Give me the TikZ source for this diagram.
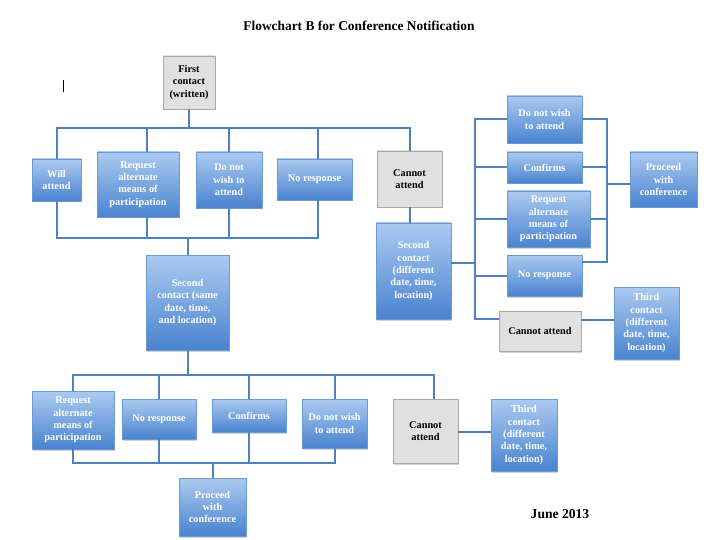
\documentclass[tikz,border=0pt]{standalone}
\usepackage{fontspec}
\setmainfont{Liberation Serif}
\usepackage{tikz}
\usetikzlibrary{shadows}
\usepackage{xcolor}
\definecolor{cimo}{HTML}{ABCAF0}
\definecolor{baixo}{HTML}{4983CF}
\definecolor{borda}{HTML}{6A99D6}
\definecolor{linhaazul}{HTML}{4F81BD}
\definecolor{cinzafundo}{HTML}{E0E0E0}
\definecolor{cinzaborda}{HTML}{A8A8A8}

\begin{document}
\begin{tikzpicture}[x=1pt,y=-1pt,
  caixa/.style={draw=borda, line width=0.6pt, top color=cimo, bottom color=baixo,
    text=white, font=\bfseries\fontsize{10.3}{12.4}\selectfont, align=center,
    inner sep=1pt, drop shadow={opacity=0.35, shadow xshift=1.2pt, shadow yshift=-1.5pt}},
  cinza/.style={caixa, top color=cinzafundo, bottom color=cinzafundo, draw=cinzaborda,
    text=black},
  linha/.style={draw=linhaazul, line width=2pt}]
\fill[white] (0,0) rectangle (720,540);
\useasboundingbox (0,0) rectangle (720,540);
% Titulo
\node[font=\bfseries\fontsize{13.4}{15}\selectfont] (titulo) at (359,26) {Flowchart B for Conference Notification};
\node[font=\bfseries\fontsize{13.6}{15}\selectfont] (data) at (560,514) {June 2013};
\draw[line width=0.6pt] (63,80) -- (63,92);
% Primeiro contato
\node[cinza, minimum width=52, minimum height=53] (ini) at (189,82.5) {First\\contact\\(written)};
% Primeira linha de respostas
\node[caixa, minimum width=49, minimum height=42] (vai) at (56.5,180) {Will\\attend};
\node[caixa, minimum width=82, minimum height=65] (pede) at (138,184.5) {Request\\alternate\\means of\\participation};
\node[caixa, minimum width=66, minimum height=56] (naoq) at (229,180) {Do not\\wish to\\attend};
\node[caixa, minimum width=75, minimum height=41] (semr) at (314.5,179.5) {No response};
\node[cinza, minimum width=65, minimum height=56] (naop) at (409.5,179) {Cannot\\attend};
% Segundos contatos
\node[caixa, minimum width=83, minimum height=95] (segA) at (187.5,302.5) {Second\\contact (same\\date, time,\\and location)};
\node[caixa, minimum width=75, minimum height=96] (segB) at (413.5,271) {Second\\contact\\(different\\date, time,\\location)};
% Ramo da direita
\node[caixa, minimum width=75, minimum height=47] (dNaoq) at (544.5,119.5) {Do not wish\\to attend};
\node[caixa, minimum width=75, minimum height=31] (dConf) at (544.5,167.5) {Confirms};
\node[caixa, minimum width=83, minimum height=56] (dPede) at (548.5,219) {Request\\alternate\\means of\\participation};
\node[caixa, minimum width=75, minimum height=41] (dSemr) at (544.5,275.5) {No response};
\node[cinza, minimum width=82, minimum height=40] (dNaop) at (540,331) {Cannot attend};
\node[caixa, minimum width=67, minimum height=55] (dSegue) at (663.5,179.5) {Proceed\\with\\conference};
\node[caixa, minimum width=65, minimum height=72] (dTerc) at (646.5,323) {Third\\contact\\(different\\date, time,\\location)};
% Linha de baixo
\node[caixa, minimum width=82, minimum height=58] (bPede) at (73,420) {Request\\alternate\\means of\\participation};
\node[caixa, minimum width=74, minimum height=40] (bSemr) at (159,419) {No response};
\node[caixa, minimum width=74, minimum height=33] (bConf) at (249,415.5) {Confirms};
\node[caixa, minimum width=65, minimum height=49] (bNaoq) at (334.5,423.5) {Do not wish\\to attend};
\node[cinza, minimum width=65, minimum height=64] (bNaop) at (425.5,431) {Cannot\\attend};
\node[caixa, minimum width=66, minimum height=72] (bTerc) at (524,435) {Third\\contact\\(different\\date, time,\\location)};
\node[caixa, minimum width=67, minimum height=58] (bSegue) at (212.5,507) {Proceed\\with\\conference};
% Barramentos
\coordinate (b1) at (0,128);
\coordinate (b2) at (0,238);
\coordinate (b3) at (0,375);
\coordinate (b4) at (0,463);
\coordinate (e1) at (475,0);
\coordinate (e2) at (607,0);
% Ligacoes de cima
\draw[linha] (ini.south) -- (ini.south |- b1);
\draw[linha] (vai.north) |- (naop.north |- b1) -- (naop.north);
\draw[linha] (147,128) -- (pede.north -| 147,0);
\draw[linha] (naoq.north |- b1) -- (naoq.north);
\draw[linha] (318,128) -- (semr.north -| 318,0);
\draw[linha] (vai.south) |- (318,238) -- (semr.south -| 318,0);
\draw[linha] (pede.south -| 147,0) -- (147,238);
\draw[linha] (naoq.south) -- (naoq.south |- b2);
\draw[linha] (segA.north) -- (segA.north |- b2);
\draw[linha] (naop.south) -- (naop.south |- segB.north);
% Ligacoes de baixo
\draw[linha] (segA.south) -- (segA.south |- b3);
\draw[linha] (bPede.north) |- (434,375) -- (bNaop.north -| 434,0);
\draw[linha] (bSemr.north |- b3) -- (bSemr.north);
\draw[linha] (bConf.north |- b3) -- (bConf.north);
\draw[linha] (bNaoq.north |- b3) -- (bNaoq.north);
\draw[linha] (bPede.south) |- (bNaoq.south |- b4) -- (bNaoq.south);
\draw[linha] (bSemr.south) -- (bSemr.south |- b4);
\draw[linha] (bConf.south) -- (bConf.south |- b4);
\draw[linha] (bSegue.north) -- (bSegue.north |- b4);
\draw[linha] (bNaop.east |- 0,432) -- (bTerc.west |- 0,432);
% Ligacoes da direita
\draw[linha] (segB.east |- 0,263) -- (475,263);
\draw[linha] (dNaoq.west) -| (475,319) -- (dNaop.west |- 0,319);
\draw[linha] (dConf.west) -- (dConf.west -| e1);
\draw[linha] (dPede.west) -- (dPede.west -| e1);
\draw[linha] (dSemr.west) -- (dSemr.west -| e1);
\draw[linha] (dNaoq.east) -| (607,262) -- (dSemr.east |- 0,262);
\draw[linha] (dConf.east) -- (dConf.east -| e2);
\draw[linha] (dPede.east) -- (dPede.east -| e2);
\draw[linha] (607,184) -- (dSegue.west |- 0,184);
\draw[linha] (dNaop.east |- 0,320) -- (dTerc.west |- 0,320);
\end{tikzpicture}
\end{document}
